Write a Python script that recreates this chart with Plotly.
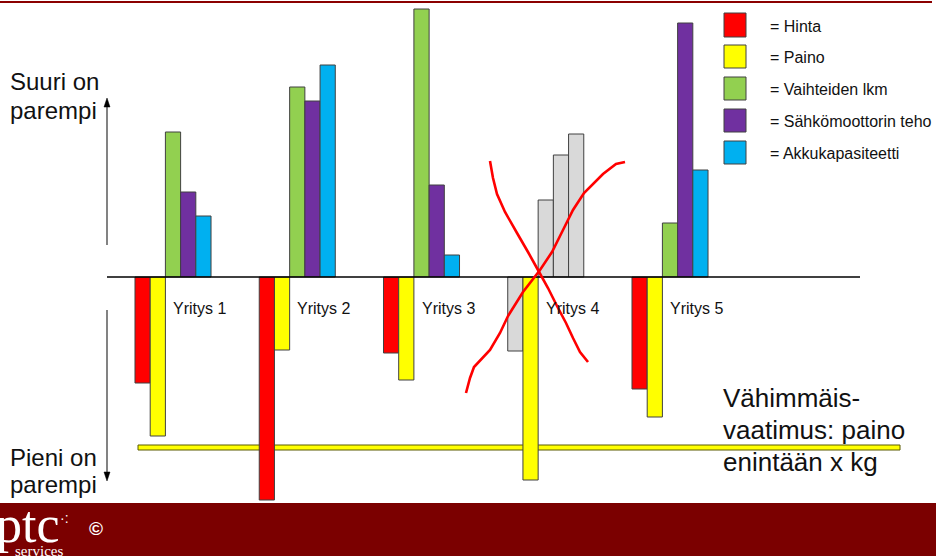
import plotly.graph_objects as go

W, H = 936, 556

# ---- data ----
companies = ["Yritys 1", "Yritys 2", "Yritys 3", "Yritys 4", "Yritys 5"]
series_names = ["Hinta", "Paino", "Vaihteiden lkm", "Sähkömoottorin teho", "Akkukapasiteetti"]
hinta = [-10.6, -22.3, -7.6, -7.4, -11.2]
paino = [-15.9, -7.3, -10.3, -20.3, -14.0]
vaihteet = [14.5, 19.0, 26.8, 7.7, 5.4]
teho = [8.5, 17.6, 9.2, 12.2, 25.4]
akku = [6.1, 21.2, 2.2, 14.3, 10.7]
series_values = [hinta, paino, vaihteet, teho, akku]
series_colors = ["#FF0000", "#FFFF00", "#92D050", "#7030A0", "#00B0F0"]
crossed_out = "Yritys 4"
grey = "#D9D9D9"

legend_labels = ["= Hinta", "= Paino", "= Vaihteiden lkm", "= Sähkömoottorin teho", "= Akkukapasiteetti"]

def px(x):
    return x / W

def py(y):
    return 1 - y / H

fig = go.Figure()
for name, vals, col in zip(series_names, series_values, series_colors):
    colors = [grey if (c == crossed_out and name != "Paino") else col for c in companies]
    fig.add_trace(go.Bar(
        x=companies, y=vals, name=name,
        marker=dict(color=colors, line=dict(color="#404040", width=1)),
        showlegend=False,
    ))

shapes = []
annotations = []

# zero line
shapes.append(dict(type="line", xref="paper", yref="y", x0=px(107), x1=px(860), y0=0, y1=0,
                   line=dict(color="black", width=1.5), layer="above"))
# minimum requirement line
shapes.append(dict(type="rect", xref="paper", yref="paper", x0=px(138), x1=px(900),
                   y0=py(450), y1=py(445), fillcolor="#FFFF00",
                   line=dict(color="#5A5A00", width=1), layer="below"))

# arrows on the left
shapes.append(dict(type="line", xref="paper", yref="paper", x0=px(107), x1=px(107),
                   y0=py(245), y1=py(104), line=dict(color="#404040", width=1.3)))
shapes.append(dict(type="path", xref="paper", yref="paper",
                   path=f"M {px(104)} {py(107)} L {px(107)} {py(98)} L {px(110)} {py(107)} Z",
                   fillcolor="black", line=dict(color="black", width=0.5)))
shapes.append(dict(type="line", xref="paper", yref="paper", x0=px(107), x1=px(107),
                   y0=py(310), y1=py(474), line=dict(color="#404040", width=1.3)))
shapes.append(dict(type="path", xref="paper", yref="paper",
                   path=f"M {px(104)} {py(472)} L {px(107)} {py(481)} L {px(110)} {py(472)} Z",
                   fillcolor="black", line=dict(color="black", width=0.5)))

# red cross over Yritys 4
cross_a = [(490, 161), (493, 178), (497, 194), (505, 212), (517, 233), (528, 252), (538, 270),
           (548, 288), (557, 306), (566, 323), (573, 338), (580, 352), (588, 362)]
cross_b = [(466, 393), (470, 378), (474, 367), (490, 350), (500, 333), (508, 316), (523, 292),
           (540, 270), (552, 252), (563, 230), (573, 210), (584, 193), (603, 174), (616, 164), (625, 162)]
for pts in (cross_a, cross_b):
    path = "M " + " L ".join(f"{px(x):.5f} {py(y):.5f}" for x, y in pts)
    shapes.append(dict(type="path", xref="paper", yref="paper", path=path,
                       line=dict(color="#FF0000", width=2.6), layer="above"))

# legend squares and labels
leg_y = [(13, 37), (45, 68), (77, 100), (109, 132), (141, 164)]
for (y0, y1), col, lab in zip(leg_y, series_colors, legend_labels):
    shapes.append(dict(type="rect", xref="paper", yref="paper", x0=px(724), x1=px(746),
                       y0=py(y1), y1=py(y0), fillcolor=col,
                       line=dict(color="#404040", width=1)))
    annotations.append(dict(text=lab, xref="paper", yref="paper", x=px(768), y=py((y0 + y1) / 2 + 1),
                            xanchor="left", yanchor="middle", showarrow=False,
                            font=dict(family="Liberation Sans, Arial", size=16, color="#111111")))

# company labels
for c in companies:
    annotations.append(dict(text=c, xref="x", yref="y", x=c, y=-3.1, xanchor="left",
                            yanchor="middle", xshift=-2, showarrow=False,
                            font=dict(family="Liberation Sans, Arial", size=16, color="#111111")))

# left side texts
for txt, y in [("Suuri on", 82), ("parempi", 110), ("Pieni on", 457), ("parempi", 484)]:
    annotations.append(dict(text=txt, xref="paper", yref="paper", x=px(8), y=py(y),
                            xanchor="left", yanchor="middle", showarrow=False,
                            font=dict(family="Liberation Sans, Arial", size=24, color="#111111")))

# right side texts
for txt, y in [("Vähimmäis-", 398), ("vaatimus: paino", 430), ("enintään x kg", 462)]:
    annotations.append(dict(text=txt, xref="paper", yref="paper", x=px(721), y=py(y),
                            xanchor="left", yanchor="middle", showarrow=False,
                            font=dict(family="Liberation Sans, Arial", size=26, color="#111111")))

# top line and bottom banner
shapes.append(dict(type="line", xref="paper", yref="paper", x0=0, x1=px(932), y0=py(2), y1=py(2),
                   line=dict(color="#8B0000", width=2), layer="above"))
shapes.append(dict(type="rect", xref="paper", yref="paper", x0=0, x1=1, y0=0, y1=py(503),
                   fillcolor="#7B0000", line=dict(width=0), layer="above"))

annotations.append(dict(text="ptc", xref="paper", yref="paper", x=px(-6), y=py(524),
                        xanchor="left", yanchor="middle", showarrow=False,
                        font=dict(family="Liberation Serif, Times New Roman", size=52, color="white")))
annotations.append(dict(text="·:", xref="paper", yref="paper", x=px(58), y=py(518),
                        xanchor="left", yanchor="middle", showarrow=False,
                        font=dict(family="Liberation Sans, Arial", size=14, color="white")))
annotations.append(dict(text="services", xref="paper", yref="paper", x=px(13), y=py(551),
                        xanchor="left", yanchor="middle", showarrow=False,
                        font=dict(family="Liberation Serif, Times New Roman", size=15, color="white")))
annotations.append(dict(text="<b>©</b>", xref="paper", yref="paper", x=px(96), y=py(528),
                        xanchor="center", yanchor="middle", showarrow=False,
                        font=dict(family="Liberation Sans, Arial", size=19, color="white")))

fig.update_layout(
    width=W, height=H,
    margin=dict(l=0, r=0, t=0, b=0),
    paper_bgcolor="white", plot_bgcolor="white",
    barmode="group", bargap=0.388, bargroupgap=0.0,
    xaxis=dict(type="category", range=[-1.3924, 6.1408], visible=False, fixedrange=True),
    yaxis=dict(range=[-27.9, 27.7], visible=False, fixedrange=True),
    shapes=shapes, annotations=annotations,
    showlegend=False,
)

fig.write_html("out.html", config={"displayModeBar": False},
               post_script="document.body.style.margin='0';document.body.style.overflow='hidden';")
